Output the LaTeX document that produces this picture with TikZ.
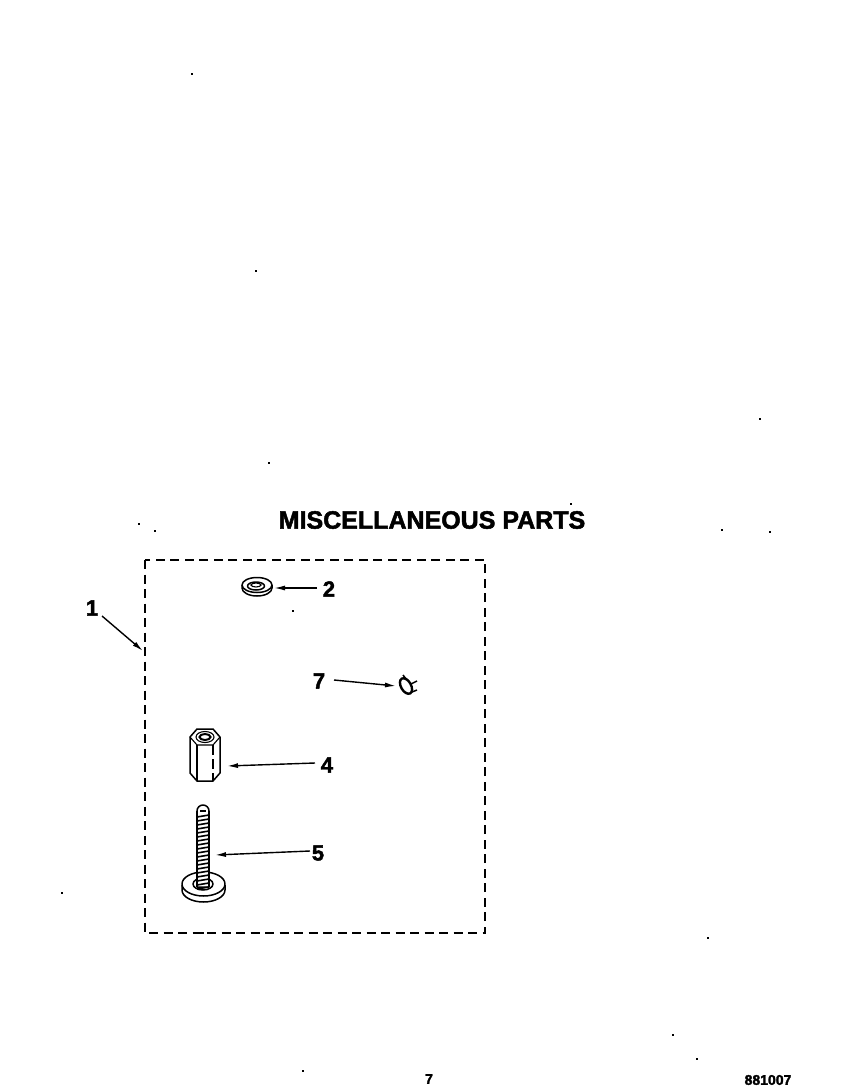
\documentclass[tikz,border=0pt]{standalone}
\usepackage{fontspec}
\setmainfont{Liberation Sans}[BoldFeatures={FakeBold=2}]
\usetikzlibrary{arrows.meta}
\tikzset{
 part/.style={line width=1.5pt,black,line join=round},
 fine/.style={line width=1.1pt,black},
 leader/.style={line width=1.4pt,black,-{Latex[length=11pt,width=5pt]}},
 num/.style={inner sep=0pt,font=\bfseries\fontsize{22}{22}\selectfont},
 small/.style={inner sep=0pt,font=\bfseries\fontsize{14}{14}\selectfont},
 speck/.style={fill=black,inner sep=0pt,minimum size=1.3pt,shape=rectangle}
}
\begin{document}
\begin{tikzpicture}[x=1pt,y=-1pt]
\useasboundingbox (0,0) rectangle (864,1089);
\fill[white] (0,0) rectangle (864,1089);
% title
\node[inner sep=0pt,font=\bfseries\fontsize{25}{25}\selectfont,text=black] (title) at (432,520) {MISCELLANEOUS PARTS};
% box
\draw[line width=1.7pt,dash pattern=on 9pt off 5.5pt] (145,560) rectangle (485,933);
% washer 2
\node[num] (n2) at (329,589) {2};
\draw[part,fill=white] (242,585) -- (242,588) arc[start angle=180,end angle=0,x radius=15,y radius=8] -- (272,585);
\draw[part,fill=white] (257,585) ellipse[x radius=15,y radius=7.5];
\draw[part] (256,586) ellipse[x radius=8.5,y radius=4];
\draw[fine] (256,585) ellipse[x radius=5,y radius=2];
\coordinate (t2) at (274,588);
\draw[leader] (317,588) -- (t2);
% clip 7
\node[num] (n7) at (319,681) {7};
\draw[line width=2.4pt,rotate around={30:(406,686)}] (406,686) ellipse[x radius=5,y radius=8.5];
\draw[part] (403,675) -- (406,679);
\draw[part] (411,684) -- (417,681);
\draw[part] (412,692) -- (417,690);
\coordinate (t7) at (396,686);
\draw[leader] (334,680) -- (t7);
% spacer 4
\node[num] (n4) at (327,765) {4};
\draw[part,fill=white] (190,737) -- (197,729) -- (213,729) -- (220,737) -- (220,773) -- (213,781) -- (197,781) -- (190,773) -- cycle;
\draw[fine] (190,737) -- (197,745) -- (213,745) -- (220,737);
\draw[fine] (197,745) -- (197,781);
\draw[fine,dash pattern=on 10pt off 4pt] (213,745) -- (213,781);
\draw[fine] (205,737) ellipse[x radius=9,y radius=5.5];
\draw[line width=2pt] (205,737) ellipse[x radius=5.5,y radius=3];
\coordinate (t4) at (227,766);
\draw[leader] (315,763) -- (t4);
% screw 5
\node[num] (n5) at (318,853) {5};
\draw[part,fill=white] (182,885) -- (182,890) arc[start angle=180,end angle=0,x radius=21.5,y radius=12] -- (225,885);
\draw[part,fill=white] (203.5,884) ellipse[x radius=21.5,y radius=12];
\draw[part] (203,884) ellipse[x radius=10,y radius=6];
\draw[part,fill=white] (197,811) arc[start angle=180,end angle=360,x radius=6,y radius=6] -- (209,887) -- (197,887) -- cycle;
\draw[fine] (200,811) -- (206,811);
\foreach \y in {816,820,...,888}{\draw[line width=1.6pt] (197,\y+1) -- (209,\y-1);}
\draw[line width=2pt] (197,811) -- (197,887) (209,811) -- (209,887);
\coordinate (t5) at (215,855);
\draw[leader] (310,851) -- (t5);
% pointer 1
\node[num] (n1) at (92,608) {1};
\coordinate (t1) at (143,651);
\draw[leader] (102,616) -- (t1);
% footer
\node[small] (pg) at (429,1079) {7};
\node[small] (code) at (768,1080) {881007};
% specks
\foreach \i/\p in {a/{192,74},b/{256,271},c/{269,463},d/{760,419},e/{571,504},f/{139,524},g/{155,531},h/{722,530},i/{770,532},j/{293,611},k/{62,893},l/{708,938},m/{673,1035},n/{697,1059},o/{303,1071},p/{203,933}}{\node[speck] (s\i) at (\p) {};}
\end{tikzpicture}
\end{document}
